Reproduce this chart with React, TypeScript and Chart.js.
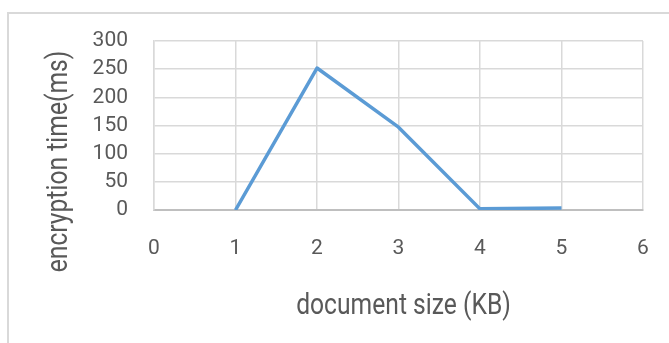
import React, { useEffect, useRef } from "react";
import { Chart, registerables } from "chart.js";

Chart.register(...registerables);

// Document sizes (KB) and measured encryption times (ms)
const sizesKB = [1, 2, 3, 4, 5];
const encryptionMs = [0, 252, 147, 2, 3.5];

// Axis tick values
const xTicks = [0, 1, 2, 3, 4, 5, 6];
const yTicks = [0, 50, 100, 150, 200, 250, 300];

const xTitle = "document size (KB)";
const yTitle = "encryption time(ms)";

const TEXT = "#595959";
const GRID = "#d9d9d9";
const AXIS = "#bfbfbf";
const LINE = "#5b9bd5";

// White background and the light outer frame of the chart box
const framePlugin = {
  id: "frame",
  beforeDraw(chart: any) {
    const { ctx, width, height } = chart;
    ctx.save();
    ctx.fillStyle = "#ffffff";
    ctx.fillRect(0, 0, width, height);
    ctx.strokeStyle = GRID;
    ctx.lineWidth = 2;
    ctx.beginPath();
    ctx.moveTo(width, 13);
    ctx.lineTo(8, 13);
    ctx.lineTo(8, height);
    ctx.stroke();
    ctx.restore();
  },
};

// Narrow axis titles placed like the spreadsheet layout
const axisTitlesPlugin = {
  id: "axisTitles",
  afterDraw(chart: any) {
    const { ctx, chartArea } = chart;
    const font = "29px Roboto, 'Noto Sans', sans-serif";

    ctx.save();
    ctx.fillStyle = TEXT;
    ctx.font = font;
    ctx.textAlign = "center";
    ctx.textBaseline = "alphabetic";
    ctx.translate((chartArea.left + chartArea.right) / 2 + 5, chartArea.bottom + 104);
    ctx.scale(0.85, 1);
    ctx.fillText(xTitle, 0, 0);
    ctx.restore();

    ctx.save();
    ctx.fillStyle = TEXT;
    ctx.font = font;
    ctx.textAlign = "center";
    ctx.textBaseline = "alphabetic";
    ctx.translate(67, (chartArea.top + chartArea.bottom) / 2 + 36);
    ctx.rotate(-Math.PI / 2);
    ctx.scale(0.85, 1);
    ctx.fillText(yTitle, 0, 0);
    ctx.restore();
  },
};

export default function App() {
  const canvasRef = useRef<HTMLCanvasElement | null>(null);

  useEffect(() => {
    const canvas = canvasRef.current;
    if (!canvas) return;

    const tickFont = { family: "Roboto, 'Noto Sans', sans-serif", size: 21 };

    const chart = new Chart(canvas, {
      type: "line",
      data: {
        datasets: [
          {
            data: sizesKB.map((x, i) => ({ x, y: encryptionMs[i] })),
            borderColor: LINE,
            borderWidth: 3.5,
            pointRadius: 0,
            tension: 0,
            fill: false,
            borderJoinStyle: "round",
          },
        ],
      },
      options: {
        animation: false,
        responsive: false,
        layout: { padding: { top: 41, right: 26, left: 0, bottom: 0 } },
        plugins: {
          legend: { display: false },
          tooltip: { enabled: false },
        },
        scales: {
          x: {
            type: "linear",
            min: xTicks[0],
            max: xTicks[xTicks.length - 1],
            ticks: {
              stepSize: xTicks[1] - xTicks[0],
              padding: 26,
              color: TEXT,
              font: tickFont,
              maxRotation: 0,
              autoSkip: false,
            },
            grid: { color: GRID, lineWidth: 1.5, drawTicks: false, tickLength: 0 },
            border: { color: AXIS, width: 2 },
            afterFit: (scale: any) => {
              scale.height = 133;
              scale.paddingLeft = 0;
              scale.paddingRight = 0;
            },
          },
          y: {
            min: yTicks[0],
            max: yTicks[yTicks.length - 1],
            ticks: {
              stepSize: yTicks[1] - yTicks[0],
              padding: 26,
              color: TEXT,
              font: tickFont,
              autoSkip: false,
            },
            grid: { color: GRID, lineWidth: 1.5, drawTicks: false, tickLength: 0 },
            border: { color: GRID, width: 1.5 },
            afterFit: (scale: any) => {
              scale.width = 154;
            },
          },
        },
      },
      plugins: [framePlugin, axisTitlesPlugin],
    } as any);

    return () => chart.destroy();
  }, []);

  return (
    <div style={{ position: "fixed", left: 0, top: 0, width: 669, height: 343, background: "#fff" }}>
      <canvas ref={canvasRef} width={669} height={343} />
    </div>
  );
}
